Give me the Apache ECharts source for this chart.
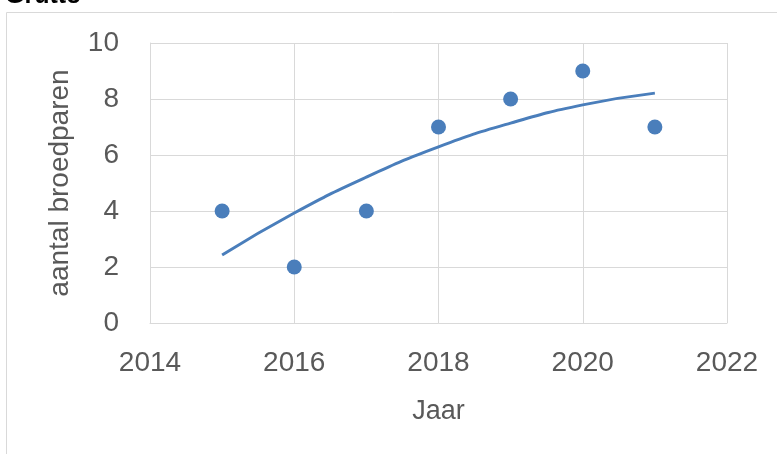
<!DOCTYPE html>
<html><head><meta charset="utf-8">
<script src="https://cdn.jsdelivr.net/npm/echarts@6/dist/echarts.min.js"></script>
<style>html,body{margin:0;padding:0;background:#fff}#c{width:777px;height:454px}</style>
</head><body><div id="c"></div>
<script>
const years = [2015, 2016, 2017, 2018, 2019, 2020, 2021];
const pairs = [4, 2, 4, 7, 8, 9, 7];
// trend line values (polynomial trendline)
const trendYears = [2015, 2016, 2017, 2018, 2019, 2020, 2021];
const trendValues = [2.43, 3.93, 5.21, 6.29, 7.14, 7.79, 8.21];
const xTicks = [2014, 2016, 2018, 2020, 2022];
const yTicks = [0, 2, 4, 6, 8, 10];

const chart = echarts.init(document.getElementById('c'), null, {renderer: 'canvas'});
const font = 'Liberation Sans, Arial, sans-serif';
chart.setOption({
  animation: false,
  title: {text: 'Grutto', left: 0, top: -21, textStyle: {fontFamily: font, fontWeight: 'bold', fontSize: 25, color: '#000'}},
  graphic: [{type: 'rect', shape: {x: 6.5, y: 12.5, width: 900, height: 600}, style: {fill: 'none', stroke: '#d9d9d9', lineWidth: 1}, silent: true, z: -10}],
  grid: {left: 150, right: 50, top: 43, bottom: 131},
  xAxis: {
    type: 'value', min: xTicks[0], max: xTicks[xTicks.length - 1], interval: 2,
    name: 'Jaar', nameLocation: 'middle', nameGap: 75,
    nameTextStyle: {fontFamily: font, fontSize: 27, color: '#595959'},
    axisLabel: {fontFamily: font, fontSize: 28, color: '#595959', margin: 26, formatter: v => String(v)},
    axisLine: {show: true, lineStyle: {color: '#d9d9d9', width: 1}},
    axisTick: {show: false},
    splitLine: {show: true, lineStyle: {color: '#d9d9d9', width: 1}}
  },
  yAxis: {
    type: 'value', min: yTicks[0], max: yTicks[yTicks.length - 1], interval: 2,
    name: 'aantal broedparen', nameLocation: 'middle', nameGap: 76,
    nameTextStyle: {fontFamily: font, fontSize: 28, color: '#595959'},
    axisLabel: {fontFamily: font, fontSize: 28, color: '#595959', margin: 31, formatter: v => String(v)},
    axisLine: {show: true, lineStyle: {color: '#d9d9d9', width: 1}},
    axisTick: {show: false},
    splitLine: {show: true, lineStyle: {color: '#d9d9d9', width: 1}}
  },
  series: [
    {type: 'scatter', data: years.map((y, i) => [y, pairs[i]]), symbolSize: 15,
     itemStyle: {color: '#4a7ebb', opacity: 1}, z: 3},
    {type: 'line', data: trendYears.map((y, i) => [y, trendValues[i]]), smooth: true, showSymbol: false,
     lineStyle: {color: '#4a7ebb', width: 3}, z: 2}
  ]
});
</script></body></html>
